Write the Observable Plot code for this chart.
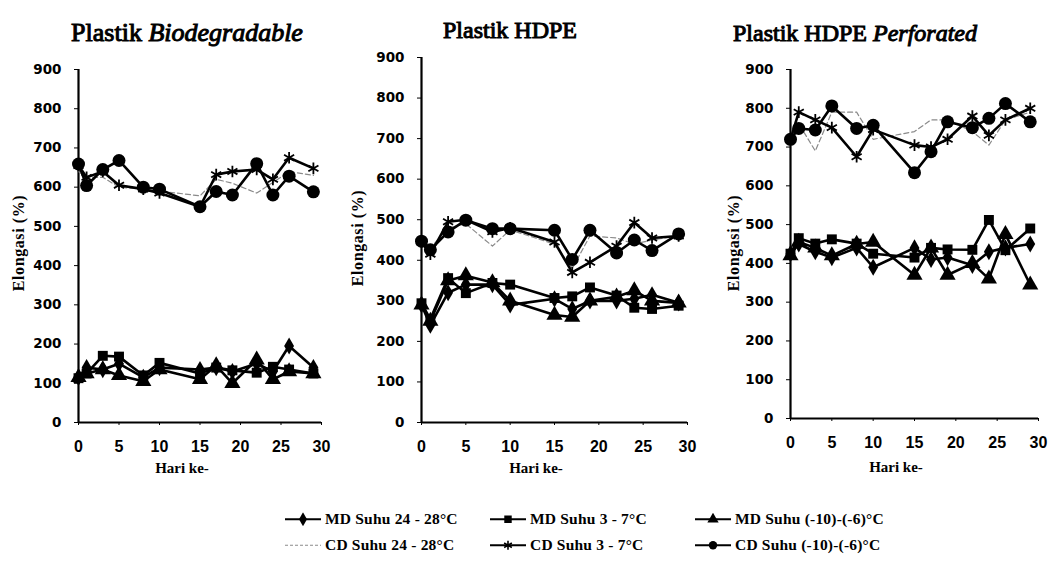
<!DOCTYPE html>
<html>
<head>
<meta charset="utf-8">
<script src="https://cdn.jsdelivr.net/npm/d3@7"></script>
<script src="https://cdn.jsdelivr.net/npm/@observablehq/plot@0.6"></script>
<style>
  body { margin: 0; background: #fff; }
  #root { position: relative; width: 1049px; height: 585px; overflow: hidden; background: #fff; }
  .panel { position: absolute; top: 0; }
  .panel svg { overflow: visible; }
  .serif { font-family: "Liberation Serif", "Times New Roman", "DejaVu Serif", serif; font-weight: bold; color: #000; white-space: nowrap; line-height: 1; }
  .title { position: absolute; font-size: 24px; font-weight: normal; -webkit-text-stroke: 1px #000; transform: translate(-50%, -50%); }
  .title.big { font-size: 26px; }
  .ylab { position: absolute; font-size: 16px; letter-spacing: 0.6px; transform: translate(-50%, -50%) rotate(-90deg); }
  .xlab { position: absolute; font-size: 15px; transform: translate(-50%, -50%); }
  .leg { position: absolute; display: flex; align-items: center; font-size: 15.5px; letter-spacing: 0.2px; transform: translateY(-50%); }
  .leg svg { margin-right: 4px; }
</style>
</head>
<body>
<div id="root"></div>
<script>
// ---- data ----
const days = [0, 1, 3, 5, 8, 10, 15, 17, 19, 22, 24, 26, 29];
const xTicks = [0, 5, 10, 15, 20, 25, 30];
const yTicks = [0, 100, 200, 300, 400, 500, 600, 700, 800, 900];

const seriesNames = ["MD Suhu 24 - 28°C", "MD Suhu 3 - 7°C", "MD Suhu (-10)-(-6)°C",
                     "CD Suhu 24 - 28°C", "CD Suhu 3 - 7°C", "CD Suhu (-10)-(-6)°C"];

// Plastik Biodegradable
const bioMD24 = [115, 140, 135, 150, 115, 140, 135, 140, 130, 150, 130, 195, 140];
const bioMD3  = [113, 125, 170, 168, 120, 152, 125, 140, 133, 127, 142, 135, 125];
const bioMD10 = [115, 125, 135, 120, 105, 135, 110, 145, 100, 160, 110, 130, 125];
const bioCD24 = [640, 625, 625, 600, 595, 590, 578, 620, 610, 585, 612, 640, 630];
const bioCD3  = [655, 625, 640, 605, 595, 585, 550, 632, 640, 645, 620, 675, 648];
const bioCD10 = [659, 604, 645, 668, 600, 595, 550, 589, 580, 660, 580, 628, 588];

// Plastik HDPE
const hdpeMD24 = [290, 240, 320, 340, 340, 290, 305, 280, 300, 300, 305, 315, 295];
const hdpeMD3  = [294, 255, 356, 319, 344, 340, 307, 311, 333, 313, 283, 280, 288];
const hdpeMD10 = [290, 250, 350, 362, 345, 300, 265, 260, 300, 310, 325, 300, 295];
const hdpeCD24 = [440, 430, 480, 490, 435, 475, 440, 380, 460, 455, 440, 450, 460];
const hdpeCD3  = [445, 415, 495, 500, 470, 480, 445, 370, 395, 435, 493, 455, 460];
const hdpeCD10 = [447, 426, 470, 499, 478, 478, 474, 402, 474, 418, 450, 424, 465];

// Plastik HDPE Perforated
const perfMD24 = [425, 450, 430, 415, 440, 390, 440, 410, 415, 395, 430, 440, 450];
const perfMD3  = [425, 465, 451, 462, 451, 425, 415, 440, 436, 435, 512, 434, 490];
const perfMD10 = [420, 455, 440, 420, 450, 455, 370, 440, 370, 400, 360, 475, 345];
const perfCD24 = [730, 760, 690, 790, 790, 720, 740, 770, 770, 740, 705, 770, 790];
const perfCD3  = [720, 790, 770, 750, 675, 745, 705, 700, 720, 780, 730, 770, 800];
const perfCD10 = [720, 748, 744, 806, 748, 756, 634, 688, 765, 750, 774, 812, 765];

const panelTitles = [
  ["Plastik ", "Biodegradable"],
  ["Plastik HDPE", ""],
  ["Plastik HDPE ", "Perforated"]
];
const yLabel = "Elongasi (%)";
const xLabel = "Hari ke-";

// ---- styles per series ----
const styles = [
  {symbol: "diamond", r: 5.2, fill: "black"},
  {symbol: "square", r: 5.6, fill: "black"},
  {symbol: "triangle", r: 6, fill: "black"},
  {dashed: true},
  {symbol: "asterisk", r: 5.5, stroke: "black"},
  {symbol: "circle", r: 6.5, fill: "black"}
];

function rows(vals) { return days.map((d, i) => ({day: d, val: vals[i]})); }

function seriesMarks(list) {
  const marks = [];
  const order = [3, 0, 1, 2, 4, 5];
  for (const k of order) {
    const data = rows(list[k]);
    const st = styles[k];
    if (st.dashed) {
      marks.push(Plot.line(data, {x: "day", y: "val", stroke: "#8a8a8a", strokeWidth: 1.2, strokeDasharray: "5,3"}));
    } else {
      marks.push(Plot.line(data, {x: "day", y: "val", stroke: "black", strokeWidth: 2.6}));
      if (st.fill) marks.push(Plot.dot(data, {x: "day", y: "val", symbol: st.symbol, r: st.r, fill: st.fill, stroke: "none"}));
      else marks.push(Plot.dot(data, {x: "day", y: "val", symbol: st.symbol, r: st.r, stroke: st.stroke, strokeWidth: 1.8}));
    }
  }
  return marks;
}

const panels = [
  {L: 0,   W: 345, ml: 78, mr: 24, mt: 69, mb: 58, data: [bioMD24, bioMD3, bioMD10, bioCD24, bioCD3, bioCD10],
   titleX: 187, titleY: 33, big: true, ylabX: 19, ylabY: 243, xlabX: 182, xlabY: 468},
  {L: 345, W: 355, ml: 76, mr: 13, mt: 57, mb: 58, data: [hdpeMD24, hdpeMD3, hdpeMD10, hdpeCD24, hdpeCD3, hdpeCD10],
   titleX: 510, titleY: 30, big: false, ylabX: 358, ylabY: 238, xlabX: 536, xlabY: 468},
  {L: 700, W: 349, ml: 90, mr: 11, mt: 69, mb: 62, data: [perfMD24, perfMD3, perfMD10, perfCD24, perfCD3, perfCD10],
   titleX: 855, titleY: 33, big: false, ylabX: 734, ylabY: 243, xlabX: 896, xlabY: 467}
];

const root = document.getElementById("root");

function addText(cls, x, y, txt) {
  const el = document.createElement("div");
  el.className = "serif " + cls;
  el.style.left = x + "px";
  el.style.top = y + "px";
  if (typeof txt === "string") el.textContent = txt;
  else {
    el.appendChild(document.createTextNode(txt[0]));
    if (txt[1]) { const it = document.createElement("i"); it.textContent = txt[1]; el.appendChild(it); }
  }
  root.appendChild(el);
  return el;
}

panels.forEach((p, i) => {
  const chart = Plot.plot({
    width: p.W, height: 480,
    marginLeft: p.ml, marginRight: p.mr, marginTop: p.mt, marginBottom: p.mb,
    x: {domain: [0, 30]},
    y: {domain: [0, 900]},
    style: {background: "transparent", color: "black"},
    marks: [
      Plot.axisY(yTicks, {tickSize: 4, tickPadding: 13, fontSize: 13.5, fontWeight: "bold", fontFamily: "DejaVu Sans", label: null, stroke: "black"}),
      Plot.axisX(xTicks, {tickSize: 3, tickPadding: 15, fontSize: 16, fontWeight: "bold", fontFamily: "Liberation Sans", label: null, stroke: "black"}),
      Plot.ruleX([0], {stroke: "black", strokeWidth: 2.2}),
      Plot.ruleY([0], {stroke: "black", strokeWidth: 2.2}),
      ...seriesMarks(p.data)
    ]
  });
  const wrap = document.createElement("div");
  wrap.className = "panel";
  wrap.style.left = p.L + "px";
  wrap.appendChild(chart);
  root.appendChild(wrap);

  addText("title" + (p.big ? " big" : ""), p.titleX, p.titleY, panelTitles[i]);
  addText("ylab", p.ylabX, p.ylabY, yLabel);
  addText("xlab", p.xlabX, p.xlabY, xLabel);
});

// ---- legend ----
const legPos = [
  {x: 285, y: 519}, {x: 490, y: 519}, {x: 695, y: 519},
  {x: 285, y: 545}, {x: 490, y: 545}, {x: 695, y: 545}
];
const symMap = {diamond: d3.symbolDiamond, square: d3.symbolSquare, triangle: d3.symbolTriangle, circle: d3.symbolCircle, asterisk: d3.symbolAsterisk};
seriesNames.forEach((name, k) => {
  const div = document.createElement("div");
  div.className = "serif leg";
  div.style.left = legPos[k].x + "px";
  div.style.top = legPos[k].y + "px";
  const svg = d3.create("svg").attr("width", 36).attr("height", 14);
  const st = styles[k];
  if (st.dashed) {
    svg.append("line").attr("x1", 0).attr("x2", 36).attr("y1", 7).attr("y2", 7)
      .attr("stroke", "#8a8a8a").attr("stroke-width", 1.2).attr("stroke-dasharray", "3,2");
  } else {
    svg.append("line").attr("x1", 0).attr("x2", 36).attr("y1", 7).attr("y2", 7)
      .attr("stroke", "black").attr("stroke-width", 2.2);
    const path = d3.symbol(symMap[st.symbol], Math.PI * 4.2 * 4.2)();
    const g = svg.append("path").attr("d", path).attr("transform", "translate(18,7)");
    if (st.fill) g.attr("fill", "black"); else g.attr("fill", "none").attr("stroke", "black").attr("stroke-width", 1.6);
  }
  div.appendChild(svg.node());
  const span = document.createElement("span");
  span.textContent = name;
  div.appendChild(span);
  root.appendChild(div);
});
</script>
</body>
</html>
